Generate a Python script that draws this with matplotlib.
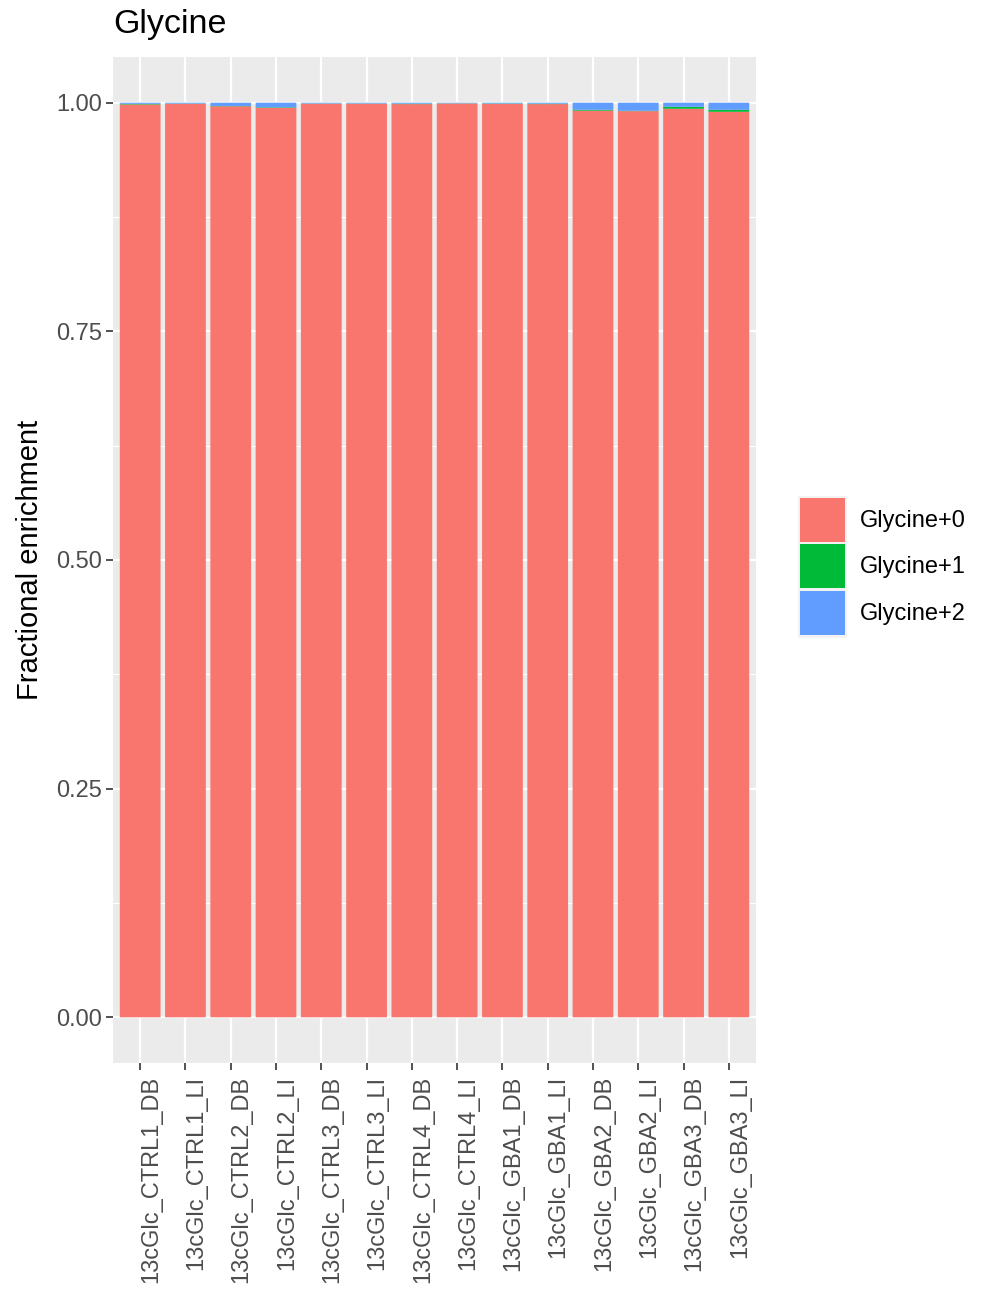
import numpy as np
import matplotlib
matplotlib.use("Agg")
import matplotlib.pyplot as plt
from matplotlib.patches import Rectangle

plt.rcParams['font.family'] = ['Liberation Sans', 'DejaVu Sans']

samples = ["13cGlc_CTRL1_DB", "13cGlc_CTRL1_LI", "13cGlc_CTRL2_DB", "13cGlc_CTRL2_LI",
           "13cGlc_CTRL3_DB", "13cGlc_CTRL3_LI", "13cGlc_CTRL4_DB", "13cGlc_CTRL4_LI",
           "13cGlc_GBA1_DB", "13cGlc_GBA1_LI", "13cGlc_GBA2_DB", "13cGlc_GBA2_LI",
           "13cGlc_GBA3_DB", "13cGlc_GBA3_LI"]
# fractions
gly1 = [0.0007, 0.0003, 0.0003, 0.0006, 0.0002, 0.0002, 0.0005, 0.0002,
        0.0004, 0.0005, 0.0010, 0.0004, 0.0022, 0.0022]
gly2 = [0.0012, 0.0009, 0.0036, 0.0050, 0.0008, 0.0008, 0.0010, 0.0006,
        0.0008, 0.0010, 0.0077, 0.0088, 0.0044, 0.0077]
gly0 = [1 - a - b for a, b in zip(gly1, gly2)]
labels = ["Glycine+0", "Glycine+1", "Glycine+2"]
colors = ["#F8766D", "#00BA38", "#619CFF"]

W, H = 992, 1291
fig = plt.figure(figsize=(W / 100, H / 100), dpi=100)
ax = fig.add_axes([113 / W, 1 - 1063 / H, (756 - 113) / W, (1063 - 57) / H])
ax.set_facecolor("#EBEBEB")

x = np.arange(len(samples))
bottom = np.zeros(len(samples))
for vals, c in zip([gly0, gly1, gly2], colors):
    ax.bar(x, vals, width=0.9, bottom=bottom, color=c, zorder=3,
           linewidth=0, snap=False)
    bottom += np.array(vals)

ax.set_xlim(-0.6, len(samples) - 0.4)
ax.set_ylim(-0.05, 1.05)
ax.set_yticks([0, 0.25, 0.5, 0.75, 1.0])
ax.set_yticklabels(["0.00", "0.25", "0.50", "0.75", "1.00"])
ax.set_yticks([0.125, 0.375, 0.625, 0.875], minor=True)
ax.set_xticks(x)
ax.set_xticklabels(samples, rotation=90, ha="left", va="top")

ax.grid(which="major", color="white", linewidth=1.6, zorder=1)
ax.grid(which="minor", axis="y", color="white", linewidth=0.8, zorder=1)
ax.tick_params(which="minor", length=0)
ax.tick_params(which="major", length=5, width=1.2, color="#333333",
               labelsize=17, labelcolor="#4D4D4D", pad=3)
ax.tick_params(axis="x", pad=4)
for s in ax.spines.values():
    s.set_visible(False)

fig.text(30 / W, 1 - 560 / H, "Fractional enrichment", rotation=90,
         ha="center", va="center", fontsize=21)
fig.text(113 / W, 1 - 25 / H, "Glycine", ha="left", va="center", fontsize=24.5)

# legend
lax = fig.add_axes([0, 0, 1, 1], facecolor="none")
lax.set_xlim(0, W)
lax.set_ylim(H, 0)
lax.axis("off")
lax.add_patch(Rectangle((798, 496), 49, 142, color="#F2F2F2", lw=0))
for i, (lab, c) in enumerate(zip(labels, colors)):
    y0 = 498 + i * 46.3
    lax.add_patch(Rectangle((800, y0), 45, 44, color=c, lw=0))
    lax.text(860, y0 + 23, lab, ha="left", va="center", fontsize=17)

fig.savefig("out.png", dpi=100)
